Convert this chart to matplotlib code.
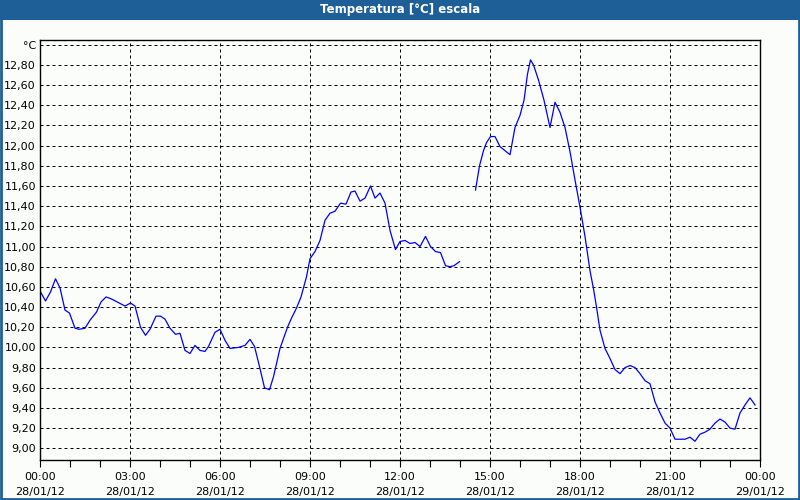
"""
    temperature trace for 28/01/12, recreated from the logger screenshot
"""

import numpy as np
import matplotlib
matplotlib.use('Agg')
import matplotlib.pyplot as plt
from matplotlib.patches import Rectangle

# minutes since 28/01/12 00:00 and temperature in degC (gap between the two runs)
minutes_a = [0, 11, 21, 31, 40, 50, 59, 70, 78, 90, 100, 113, 122, 132, 143,
             170, 181, 190, 201, 211, 220, 232, 241, 250, 260, 271, 280, 290,
             300, 310, 320, 330, 337, 350, 360, 370, 380, 397, 410, 420, 429,
             439, 449, 459, 467, 480, 495, 503, 513, 522, 533, 540, 550, 560,
             570, 580, 590, 601, 612, 622, 630, 640, 650, 661, 670, 680, 690,
             700, 711, 720, 730, 740, 750, 760, 771, 781, 791, 801, 811, 820,
             828, 839]
temp_a = [10.56, 10.46, 10.55, 10.68, 10.59, 10.37, 10.34, 10.19, 10.18, 10.19,
          10.27, 10.35, 10.45, 10.50, 10.48, 10.41, 10.44, 10.41, 10.20, 10.12,
          10.18, 10.31, 10.31, 10.28, 10.19, 10.13, 10.14, 9.97, 9.94, 10.02,
          9.97, 9.96, 10.01, 10.15, 10.18, 10.07, 9.99, 10.00, 10.02, 10.08,
          10.01, 9.81, 9.60, 9.58, 9.71, 9.99, 10.20, 10.29, 10.39, 10.50,
          10.70, 10.88, 10.95, 11.06, 11.26, 11.33, 11.35, 11.43, 11.42, 11.54,
          11.55, 11.45, 11.48, 11.60, 11.48, 11.53, 11.43, 11.16, 10.97, 11.05,
          11.06, 11.03, 11.04, 11.00, 11.10, 11.00, 10.95, 10.94, 10.81, 10.80,
          10.81, 10.85]

minutes_b = [871, 879, 887, 893, 901, 910, 920, 930, 940, 950, 960, 968, 975,
             981, 987, 997, 1008, 1020, 1030, 1040, 1050, 1060, 1070, 1080,
             1090, 1100, 1107, 1113, 1120, 1130, 1140, 1150, 1160, 1170, 1180,
             1190, 1200, 1210, 1220, 1230, 1240, 1250, 1260, 1270, 1290, 1300,
             1310, 1320, 1330, 1340, 1350, 1360, 1370, 1380, 1390, 1400, 1410,
             1420, 1430]
temp_b = [11.56, 11.80, 11.95, 12.03, 12.09, 12.09, 11.99, 11.95, 11.91, 12.18,
          12.30, 12.45, 12.71, 12.85, 12.80, 12.65, 12.45, 12.18, 12.43, 12.33,
          12.18, 11.94, 11.66, 11.39, 11.10, 10.76, 10.58, 10.40, 10.17, 9.99,
          9.89, 9.78, 9.74, 9.80, 9.82, 9.80, 9.74, 9.67, 9.64, 9.46, 9.35,
          9.25, 9.20, 9.09, 9.09, 9.11, 9.07, 9.14, 9.16, 9.19, 9.25, 9.29,
          9.26, 9.20, 9.19, 9.35, 9.43, 9.50, 9.43]

y_ticks = [9.0, 9.2, 9.4, 9.6, 9.8, 10.0, 10.2, 10.4, 10.6, 10.8, 11.0, 11.2,
           11.4, 11.6, 11.8, 12.0, 12.2, 12.4, 12.6, 12.8, 13.0]
x_ticks = [0, 180, 360, 540, 720, 900, 1080, 1260, 1440]
x_labels = ['00:00\n28/01/12', '03:00\n28/01/12', '06:00\n28/01/12',
            '09:00\n28/01/12', '12:00\n28/01/12', '15:00\n28/01/12',
            '18:00\n28/01/12', '21:00\n28/01/12', '00:00\n29/01/12']

BLUE_BAR = '#1e5f97'
BG = '#fbfdfb'

fig = plt.figure(figsize=(8, 5), dpi=100, facecolor=BG)

# window title bar and frame
fig.patches.append(Rectangle((0, 0.96), 1, 0.04, transform=fig.transFigure,
                             facecolor=BLUE_BAR, edgecolor='none', zorder=0))
fig.patches.append(Rectangle((0.001, 0.002), 0.998, 0.996, transform=fig.transFigure,
                             facecolor='none', edgecolor=BLUE_BAR, linewidth=2.0))
fig.text(0.5, 0.98, 'Temperatura [°C] escala', color='white', fontsize=8.5,
         fontweight='bold', ha='center', va='center')

ax = fig.add_axes([0.05, 0.08, 0.9, 0.84])
ax.set_facecolor(BG)

ax.plot(minutes_a, temp_a, color='#0000ff', linewidth=0.9)
ax.plot(minutes_b, temp_b, color='#0000ff', linewidth=0.9)

ax.set_xlim(0, 1440)
ax.set_ylim(8.884, 13.047)

# y axis: comma decimals, the top tick carries the unit
ax.set_yticks(y_ticks)
ylabels = [('%.2f' % v).replace('.', ',') for v in y_ticks]
ylabels[-1] = '°C'
ax.set_yticklabels(ylabels, fontsize=8)
ax.tick_params(axis='y', length=0, pad=3)

ax.set_xticks(x_ticks)
ax.set_xticklabels(x_labels, fontsize=8, linespacing=1.6)
ax.set_xticks(np.arange(0, 1441, 60), minor=True)
ax.tick_params(axis='x', which='both', length=5, width=0.8, direction='out', pad=4)

for v in y_ticks:
    ax.axhline(v, color='black', linewidth=0.72, dashes=(3, 3), zorder=1)
for t in x_ticks[1:-1]:
    ax.axvline(t, color='black', linewidth=0.72, dashes=(3, 3), zorder=1)

for s in ax.spines.values():
    s.set_linewidth(1.0)

plt.savefig('out.png', dpi=100, facecolor=BG)
